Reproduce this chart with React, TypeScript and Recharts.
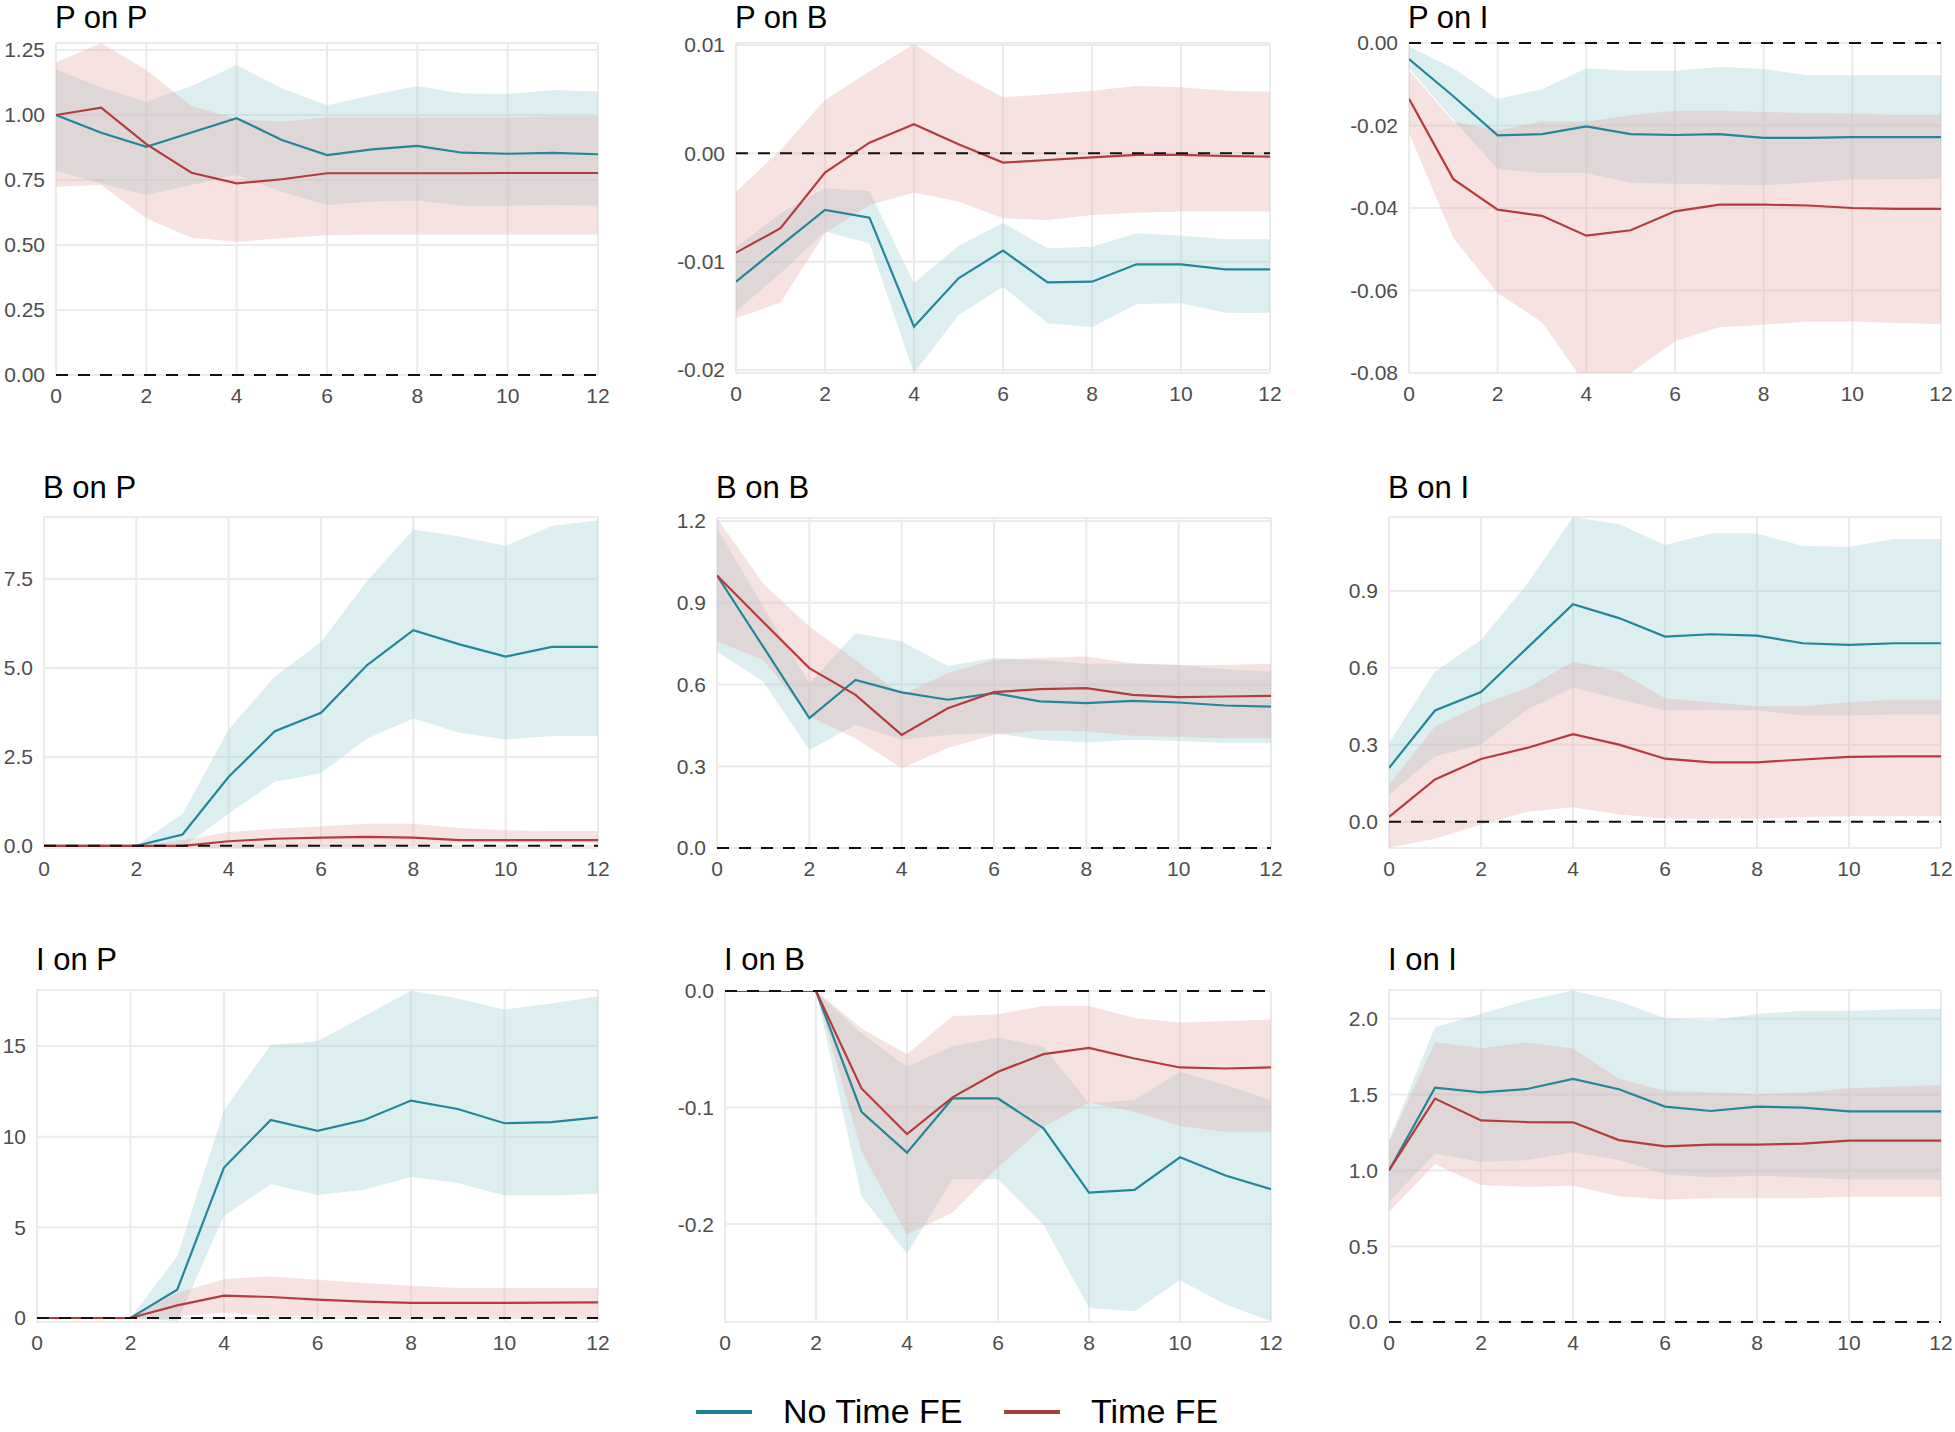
import { useMemo } from "react";
import {
  ComposedChart,
  Area,
  Line,
  XAxis,
  YAxis,
  CartesianGrid,
  ReferenceLine,
} from "recharts";

// ── Impulse responses, horizons 0..12 ────────────────────────────────
// "No" = No Time FE (teal), "Fe" = Time FE (red). Lo/Hi = band edges.

const horizons = [0, 1, 2, 3, 4, 5, 6, 7, 8, 9, 10, 11, 12];
const xTicks = [0, 2, 4, 6, 8, 10, 12];

// P on P
const ppNo = [1.0, 0.932, 0.878, 0.933, 0.988, 0.904, 0.846, 0.868, 0.881, 0.855, 0.851, 0.854, 0.849];
const ppNoHi = [1.176, 1.106, 1.051, 1.112, 1.192, 1.103, 1.038, 1.077, 1.112, 1.083, 1.081, 1.096, 1.09];
const ppNoLo = [0.786, 0.737, 0.692, 0.731, 0.769, 0.705, 0.654, 0.667, 0.671, 0.651, 0.651, 0.654, 0.651];
const ppFe = [1.0, 1.028, 0.888, 0.778, 0.737, 0.753, 0.776, 0.776, 0.776, 0.776, 0.777, 0.777, 0.777];
const ppFeHi = [1.203, 1.276, 1.173, 1.035, 0.985, 0.975, 0.99, 0.99, 0.99, 0.99, 0.99, 0.995, 0.995];
const ppFeLo = [0.724, 0.731, 0.603, 0.528, 0.513, 0.526, 0.538, 0.54, 0.54, 0.54, 0.54, 0.54, 0.54];

// P on B
const pbNo = [-0.01185, -0.00852, -0.00523, -0.00594, -0.016, -0.01154, -0.00898, -0.01191, -0.01185, -0.01025, -0.01025, -0.01071, -0.01071];
const pbNoHi = [-0.00868, -0.00554, -0.00323, -0.00348, -0.012, -0.00855, -0.0064, -0.00877, -0.00862, -0.00738, -0.0076, -0.00794, -0.00794];
const pbNoLo = [-0.01462, -0.01108, -0.00723, -0.00831, -0.0203, -0.01492, -0.01231, -0.01569, -0.01606, -0.01391, -0.01385, -0.01471, -0.01471];
const pbFe = [-0.00917, -0.00692, -0.00178, 0.00098, 0.00268, 0.00083, -0.00086, -0.00062, -0.00037, -0.00015, -0.00015, -0.00025, -0.00031];
const pbFeHi = [-0.00354, 0.00031, 0.00492, 0.00754, 0.01009, 0.00738, 0.00517, 0.00545, 0.00578, 0.00622, 0.00609, 0.00578, 0.00569];
const pbFeLo = [-0.01523, -0.01378, -0.00738, -0.00477, -0.00363, -0.00446, -0.006, -0.00615, -0.00569, -0.00548, -0.00538, -0.00538, -0.00538];

// P on I
const piNo = [-0.0039, -0.0129, -0.0224, -0.0221, -0.0202, -0.0221, -0.0223, -0.0221, -0.023, -0.023, -0.0228, -0.0228, -0.0228];
const piNoHi = [-0.0008, -0.0061, -0.0136, -0.0112, -0.0061, -0.0067, -0.0067, -0.0058, -0.0063, -0.0078, -0.0078, -0.0078, -0.0078];
const piNoLo = [-0.0061, -0.0186, -0.0306, -0.0315, -0.0315, -0.0339, -0.0341, -0.0343, -0.0345, -0.0338, -0.0331, -0.033, -0.0329];
const piFe = [-0.0135, -0.033, -0.0404, -0.0419, -0.0467, -0.0454, -0.0408, -0.0392, -0.0392, -0.0394, -0.04, -0.0402, -0.0402];
const piFeHi = [-0.0066, -0.019, -0.0212, -0.019, -0.019, -0.0175, -0.0164, -0.0164, -0.0167, -0.017, -0.0171, -0.0174, -0.0174];
const piFeLo = [-0.0218, -0.0473, -0.0606, -0.0677, -0.083, -0.08, -0.0723, -0.0689, -0.0683, -0.0675, -0.0675, -0.0679, -0.0681];

// B on P
const bpNo = [0, 0, 0, 0.32, 1.94, 3.22, 3.74, 5.08, 6.06, 5.66, 5.32, 5.59, 5.59];
const bpNoHi = [0, 0, 0, 0.9, 3.27, 4.76, 5.73, 7.45, 8.89, 8.69, 8.43, 8.99, 9.15];
const bpNoLo = [0, 0, 0, -0.03, 0.9, 1.8, 2.04, 3.02, 3.58, 3.18, 2.99, 3.09, 3.09];
const bpFe = [0, 0, 0, 0, 0.13, 0.2, 0.23, 0.25, 0.23, 0.16, 0.16, 0.16, 0.16];
const bpFeHi = [0, 0, 0, 0.16, 0.39, 0.48, 0.55, 0.62, 0.62, 0.5, 0.44, 0.42, 0.42];
const bpFeLo = [0, 0, 0, -0.03, -0.07, -0.05, -0.03, -0.02, 0, 0.07, 0.07, 0.07, 0.07];

// B on B
const bbNo = [1.0, 0.739, 0.477, 0.617, 0.571, 0.544, 0.568, 0.538, 0.532, 0.54, 0.534, 0.523, 0.519];
const bbNoHi = [1.173, 0.886, 0.605, 0.788, 0.758, 0.668, 0.697, 0.69, 0.676, 0.676, 0.672, 0.656, 0.648];
const bbNoLo = [0.721, 0.611, 0.36, 0.452, 0.397, 0.416, 0.422, 0.397, 0.387, 0.397, 0.393, 0.385, 0.385];
const bbFe = [1.0, 0.829, 0.66, 0.562, 0.415, 0.513, 0.572, 0.583, 0.587, 0.562, 0.554, 0.556, 0.558];
const bbFeHi = [1.21, 0.971, 0.813, 0.69, 0.562, 0.642, 0.69, 0.697, 0.703, 0.678, 0.672, 0.672, 0.676];
const bbFeLo = [0.758, 0.69, 0.483, 0.403, 0.293, 0.367, 0.416, 0.431, 0.428, 0.412, 0.407, 0.403, 0.403];

// B on I
const biNo = [0.21, 0.434, 0.506, 0.677, 0.848, 0.794, 0.722, 0.731, 0.726, 0.696, 0.69, 0.696, 0.696];
const biNoHi = [0.307, 0.586, 0.709, 0.927, 1.187, 1.161, 1.079, 1.124, 1.124, 1.075, 1.072, 1.102, 1.102];
const biNoLo = [0.106, 0.255, 0.301, 0.437, 0.524, 0.479, 0.434, 0.437, 0.434, 0.414, 0.414, 0.418, 0.418];
const biFe = [0.019, 0.165, 0.245, 0.288, 0.342, 0.301, 0.246, 0.232, 0.232, 0.243, 0.253, 0.255, 0.255];
const biFeHi = [0.145, 0.372, 0.456, 0.521, 0.625, 0.586, 0.482, 0.466, 0.45, 0.45, 0.466, 0.476, 0.476];
const biFeLo = [-0.101, -0.066, -0.01, 0.039, 0.057, 0.029, 0.013, 0.012, 0.012, 0.019, 0.022, 0.022, 0.022];

// I on P
const ipNo = [0, 0, 0, 1.56, 8.3, 10.92, 10.32, 10.92, 11.99, 11.53, 10.74, 10.8, 11.07];
const ipNoHi = [0, 0, 0, 3.4, 11.47, 15.05, 15.27, 16.65, 18.05, 17.62, 17.02, 17.35, 17.75];
const ipNoLo = [0, 0, 0, -0.18, 5.64, 7.38, 6.79, 7.07, 7.77, 7.44, 6.76, 6.76, 6.85];
const ipFe = [0, 0, 0, 0.7, 1.23, 1.16, 1.01, 0.9, 0.83, 0.83, 0.83, 0.85, 0.86];
const ipFeHi = [0, 0, 0, 1.38, 2.15, 2.29, 2.11, 1.93, 1.78, 1.65, 1.65, 1.65, 1.65];
const ipFeLo = [0, 0, 0, 0.09, 0.31, 0.09, 0.09, 0.09, 0.05, 0.05, 0.05, 0.05, 0.05];

// I on B
const ibNo = [0, 0, 0, -0.1036, -0.1387, -0.0922, -0.0922, -0.1178, -0.1729, -0.1706, -0.1427, -0.1583, -0.17];
const ibNoHi = [0, 0, 0, -0.0365, -0.0651, -0.0474, -0.04, -0.0479, -0.0964, -0.0936, -0.0693, -0.0807, -0.0936];
const ibNoLo = [0, 0, 0, -0.1763, -0.2254, -0.1615, -0.1615, -0.2006, -0.2719, -0.2747, -0.2482, -0.269, -0.2833];
const ibFe = [0, 0, 0, -0.0836, -0.1227, -0.0913, -0.0693, -0.0542, -0.0488, -0.0579, -0.0656, -0.0665, -0.0656];
const ibFeHi = [0, 0, 0, -0.0322, -0.0542, -0.0217, -0.02, -0.0128, -0.0128, -0.0231, -0.0271, -0.026, -0.0245];
const ibFeLo = [0, 0, 0, -0.1378, -0.2091, -0.19, -0.1512, -0.1164, -0.0959, -0.1036, -0.1158, -0.1207, -0.1207];

// I on I
const iiNo = [1.0, 1.546, 1.515, 1.537, 1.604, 1.535, 1.421, 1.392, 1.421, 1.414, 1.39, 1.39, 1.39];
const iiNoHi = [1.2, 1.945, 2.033, 2.121, 2.187, 2.115, 2.004, 1.989, 2.031, 2.053, 2.053, 2.062, 2.066];
const iiNoLo = [0.793, 1.112, 1.057, 1.068, 1.119, 1.068, 0.974, 0.954, 0.965, 0.954, 0.94, 0.94, 0.94];
const iiFe = [1.0, 1.474, 1.33, 1.319, 1.317, 1.2, 1.159, 1.17, 1.17, 1.176, 1.196, 1.196, 1.196];
const iiFeHi = [1.189, 1.846, 1.806, 1.844, 1.804, 1.604, 1.526, 1.515, 1.502, 1.513, 1.542, 1.553, 1.564];
const iiFeLo = [0.727, 1.04, 0.903, 0.892, 0.899, 0.83, 0.808, 0.817, 0.817, 0.817, 0.826, 0.826, 0.826];

// ── Styling ─────────────────────────────────────────────────────────

const BLUE = "#22879C";
const RED = "#B43C3C";
const BLUE_FILL = "#9ECED4";
const RED_FILL = "#E3ACAA";
const BAND_OPACITY = 0.35;
const GRID = "#ebebeb";
const FONT = "'Liberation Sans', Arial, sans-serif";

const tickStyle = { fill: "#4d4d4d", fontSize: 21, fontFamily: FONT } as const;

const Y_AXIS_W = 90;
const X_AXIS_H = 40;
const PAD_R = 18;
const PAD_T = 20;
const TITLE_SIZE = 31;

type Series = { no: number[]; noLo: number[]; noHi: number[]; fe: number[]; feLo: number[]; feHi: number[] };

type PanelSpec = {
  title: string;
  s: Series;
  // plot-area box on the page (px)
  L: number;
  R: number;
  T: number;
  B: number;
  titleY: number;
  domain: [number, number];
  yTicks: number[];
  digits: number;
};

const panels: PanelSpec[] = [
  { title: "P on P", s: { no: ppNo, noLo: ppNoLo, noHi: ppNoHi, fe: ppFe, feLo: ppFeLo, feHi: ppFeHi },
    L: 56, R: 598, T: 43, B: 375, titleY: 13, domain: [0, 1.277], yTicks: [0, 0.25, 0.5, 0.75, 1, 1.25], digits: 2 },
  { title: "P on B", s: { no: pbNo, noLo: pbNoLo, noHi: pbNoHi, fe: pbFe, feLo: pbFeLo, feHi: pbFeHi },
    L: 736, R: 1270, T: 43, B: 373, titleY: 13, domain: [-0.02028, 0.01018], yTicks: [-0.02, -0.01, 0, 0.01], digits: 2 },
  { title: "P on I", s: { no: piNo, noLo: piNoLo, noHi: piNoHi, fe: piFe, feLo: piFeLo, feHi: piFeHi },
    L: 1409, R: 1941, T: 43, B: 373, titleY: 13, domain: [-0.08, 0], yTicks: [-0.08, -0.06, -0.04, -0.02, 0], digits: 2 },
  { title: "B on P", s: { no: bpNo, noLo: bpNoLo, noHi: bpNoHi, fe: bpFe, feLo: bpFeLo, feHi: bpFeHi },
    L: 44, R: 598, T: 517, B: 848, titleY: 487, domain: [-0.06, 9.24], yTicks: [0, 2.5, 5, 7.5], digits: 1 },
  { title: "B on B", s: { no: bbNo, noLo: bbNoLo, noHi: bbNoHi, fe: bbFe, feLo: bbFeLo, feHi: bbFeHi },
    L: 717, R: 1271, T: 518, B: 848, titleY: 487, domain: [0, 1.211], yTicks: [0, 0.3, 0.6, 0.9, 1.2], digits: 1 },
  { title: "B on I", s: { no: biNo, noLo: biNoLo, noHi: biNoHi, fe: biFe, feLo: biFeLo, feHi: biFeHi },
    L: 1389, R: 1941, T: 517, B: 848, titleY: 487, domain: [-0.102, 1.188], yTicks: [0, 0.3, 0.6, 0.9], digits: 1 },
  { title: "I on P", s: { no: ipNo, noLo: ipNoLo, noHi: ipNoHi, fe: ipFe, feLo: ipFeLo, feHi: ipFeHi },
    L: 37, R: 598, T: 990, B: 1322, titleY: 959, domain: [-0.22, 18.09], yTicks: [0, 5, 10, 15], digits: 0 },
  { title: "I on B", s: { no: ibNo, noLo: ibNoLo, noHi: ibNoHi, fe: ibFe, feLo: ibFeLo, feHi: ibFeHi },
    L: 725, R: 1271, T: 991, B: 1322, titleY: 959, domain: [-0.284, 0], yTicks: [-0.2, -0.1, 0], digits: 1 },
  { title: "I on I", s: { no: iiNo, noLo: iiNoLo, noHi: iiNoHi, fe: iiFe, feLo: iiFeLo, feHi: iiFeHi },
    L: 1389, R: 1941, T: 990, B: 1322, titleY: 959, domain: [0, 2.19], yTicks: [0, 0.5, 1, 1.5, 2], digits: 1 },
];

// ── Panel ───────────────────────────────────────────────────────────

function Panel({ p }: { p: PanelSpec }) {
  // zip the six arrays into recharts rows; bands are [lo, hi] ranges
  const rows = useMemo(
    () =>
      horizons.map((h, i) => ({
        h,
        no: p.s.no[i],
        noBand: [p.s.noLo[i], p.s.noHi[i]],
        fe: p.s.fe[i],
        feBand: [p.s.feLo[i], p.s.feHi[i]],
      })),
    [p]
  );

  const width = Y_AXIS_W + (p.R - p.L) + PAD_R;
  const height = PAD_T + (p.B - p.T) + X_AXIS_H;
  const fmt = (v: number) => v.toFixed(p.digits);
  // with line-height "normal" the cap centre is ~0.56em below the box top;
  // row-1 titles get clamped to the page edge so nothing is cut off
  const titleTop = Math.max(0, Math.round(p.titleY - 0.56 * TITLE_SIZE));

  return (
    <>
      <div
        style={{
          position: "absolute",
          left: p.L - 1,
          top: titleTop,
          fontFamily: FONT,
          fontSize: TITLE_SIZE,
          lineHeight: "normal",
          color: "#000",
          whiteSpace: "nowrap",
        }}
      >
        {p.title}
      </div>
      <div style={{ position: "absolute", left: p.L - Y_AXIS_W, top: p.T - PAD_T }}>
        <ComposedChart
          width={width}
          height={height}
          data={rows}
          margin={{ top: PAD_T, right: PAD_R, bottom: 0, left: 0 }}
        >
          <CartesianGrid stroke={GRID} strokeWidth={2} />
          <XAxis
            dataKey="h"
            type="number"
            domain={[0, 12]}
            ticks={xTicks}
            allowDataOverflow
            axisLine={false}
            tickLine={false}
            tickSize={0}
            tickMargin={13}
            height={X_AXIS_H}
            tick={tickStyle}
            interval={0}
          />
          <YAxis
            type="number"
            domain={p.domain}
            ticks={p.yTicks}
            allowDataOverflow
            axisLine={false}
            tickLine={false}
            tickSize={0}
            tickMargin={11}
            width={Y_AXIS_W}
            tick={tickStyle}
            tickFormatter={fmt}
            interval={0}
          />

          <Area
            type="linear"
            dataKey="noBand"
            stroke="none"
            fill={BLUE_FILL}
            fillOpacity={BAND_OPACITY}
            isAnimationActive={false}
            activeDot={false}
          />
          <Line
            type="linear"
            dataKey="no"
            stroke={BLUE}
            strokeWidth={2.2}
            dot={false}
            activeDot={false}
            isAnimationActive={false}
          />
          <Area
            type="linear"
            dataKey="feBand"
            stroke="none"
            fill={RED_FILL}
            fillOpacity={BAND_OPACITY}
            isAnimationActive={false}
            activeDot={false}
          />
          <Line
            type="linear"
            dataKey="fe"
            stroke={RED}
            strokeWidth={2.2}
            dot={false}
            activeDot={false}
            isAnimationActive={false}
          />

          <ReferenceLine y={0} stroke="#111" strokeWidth={2} strokeDasharray="12 10" />
        </ComposedChart>
      </div>
    </>
  );
}

// ── Legend (bottom, centred) ────────────────────────────────────────
// The full font box (ascent+descent) has to stay inside the 1432px page,
// so the row sits a few px higher than the reference's 1419 centre.

const LEGEND_SIZE = 34;
const LEGEND_TOP = 1392;

function LegendItem({ color, label, x }: { color: string; label: string; x: number }) {
  return (
    <div
      style={{
        position: "absolute",
        left: x,
        top: LEGEND_TOP,
        display: "flex",
        alignItems: "center",
        gap: 31,
        fontFamily: FONT,
        fontSize: LEGEND_SIZE,
        lineHeight: "normal",
        color: "#000",
        whiteSpace: "nowrap",
      }}
    >
      <svg width={56} height={8}>
        <line x1={0} y1={4} x2={56} y2={4} stroke={color} strokeWidth={4} />
      </svg>
      <span>{label}</span>
    </div>
  );
}

export default function App() {
  return (
    <div
      style={{
        position: "absolute",
        left: 0,
        top: 0,
        width: 1955,
        height: 1432,
        background: "#fff",
        overflow: "hidden",
      }}
    >
      {panels.map((p) => (
        <Panel key={p.title} p={p} />
      ))}
      <LegendItem color="#1E7F92" label="No Time FE" x={696} />
      <LegendItem color="#A83E38" label="Time FE" x={1004} />
    </div>
  );
}
